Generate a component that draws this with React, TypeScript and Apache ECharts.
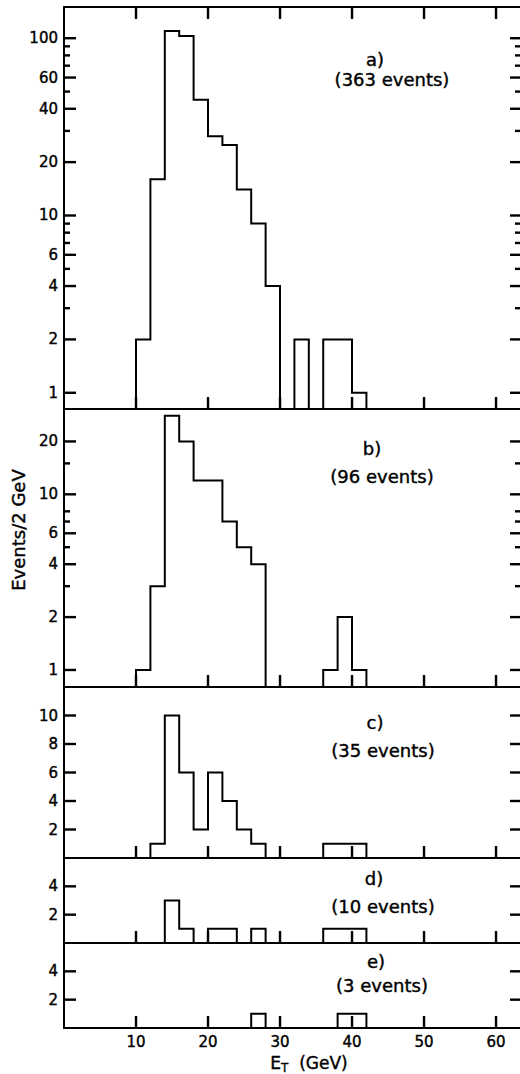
import React, { useEffect, useRef } from 'react';
import * as echarts from 'echarts';

// ---- data ----
const binStart = 10;
const binWidth = 2;
const countsA = [2, 16, 110, 103, 45, 28, 25, 14, 9, 4, 0, 2, 0, 2, 2, 1];
const countsB = [1, 3, 28, 20, 12, 12, 7, 5, 4, 0, 0, 0, 0, 1, 2, 1];
const countsC = [0, 1, 10, 6, 2, 6, 4, 2, 1, 0, 0, 0, 0, 1, 1, 1];
const countsD = [0, 0, 3, 1, 0, 1, 1, 0, 1, 0, 0, 0, 0, 1, 1, 1];
const countsE = [0, 0, 0, 0, 0, 0, 0, 0, 1, 0, 0, 0, 0, 0, 1, 1];

const panelLetters = ['a)', 'b)', 'c)', 'd)', 'e)'];
const panelEvents = ['(363 events)', '(96 events)', '(35 events)', '(10 events)', '(3 events)'];

const xTicks = [10, 20, 30, 40, 50, 60];
const aMajor = [1, 2, 4, 6, 10, 20, 40, 60, 100];
const aMinor = [3, 5, 7, 8, 9, 30, 50, 70, 80, 90];
const bMajor = [1, 2, 4, 6, 10, 20];
const bMinor = [3, 5, 7, 8, 15];
const cTicks = [2, 4, 6, 8, 10];
const dTicks = [2, 4];
const eTicks = [2, 4];

const yTitle = 'Events/2 GeV';

// ---- layout ----
const FONT = "'DejaVu Sans', sans-serif";
const GRID_LEFT = 64;
const GRID_WIDTH = 456;
const X_MIN = 0;
const X_MAX = 63.33;

const panels = [
  { top: 7, height: 402, type: 'log', min: 0.81, max: 150, major: aMajor, minor: aMinor, counts: countsA, lx: 375, ly: 59, ex: 392, ey: 79 },
  { top: 409, height: 278, type: 'log', min: 0.8, max: 30.6, major: bMajor, minor: bMinor, counts: countsB, lx: 372, ly: 448, ex: 382, ey: 476 },
  { top: 687, height: 171, type: 'value', min: 0, max: 12, major: cTicks, minor: [] as number[], counts: countsC, lx: 375, ly: 722, ex: 383, ey: 750 },
  { top: 858, height: 85, type: 'value', min: 0, max: 6, major: dTicks, minor: [] as number[], counts: countsD, lx: 374, ly: 878, ex: 383, ey: 906 },
  { top: 943, height: 85, type: 'value', min: 0, max: 6, major: eTicks, minor: [] as number[], counts: countsE, lx: 376, ly: 961, ex: 382, ey: 985 },
];

function stepPoints(counts: number[], base: number) {
  const pts: number[][] = [];
  counts.forEach((c, i) => {
    const lo = binStart + i * binWidth;
    const hi = lo + binWidth;
    const v = c > 0 ? c : base;
    if (i === 0) pts.push([lo, base]);
    pts.push([lo, v], [hi, v]);
  });
  pts.push([binStart + counts.length * binWidth, base]);
  return pts;
}

const black = '#000';
const tickFont = { color: black, fontFamily: FONT, fontSize: 15, textBorderColor: black, textBorderWidth: 0.4 };
const textFont = { fontFamily: FONT, fontSize: 18, fill: black, stroke: black, lineWidth: 0.4 };

const seg = (x1: number, y1: number, x2: number, y2: number) => ({
  type: 'line',
  shape: { x1, y1, x2, y2 },
  style: { stroke: black, lineWidth: 2.4, lineCap: 'butt' },
});

function buildOption() {
  const grid: any[] = [];
  const xAxis: any[] = [];
  const yAxis: any[] = [];
  const series: any[] = [];
  const graphic: any[] = [];

  panels.forEach((p, i) => {
    grid.push({ left: GRID_LEFT, width: GRID_WIDTH, top: p.top, height: p.height });
    const xi = xAxis.length;
    xAxis.push({
      type: 'value', gridIndex: i, position: 'bottom', min: X_MIN, max: X_MAX,
      axisLine: { show: true, onZero: false, lineStyle: { color: black, width: 2 } },
      axisTick: { show: false },
      axisLabel: { show: i === panels.length - 1, customValues: xTicks, margin: 6, ...tickFont },
      splitLine: { show: false },
    });
    if (i === 0) {
      xAxis.push({
        type: 'value', gridIndex: 0, position: 'top', min: X_MIN, max: X_MAX,
        axisLine: { show: true, onZero: false, lineStyle: { color: black, width: 2 } },
        axisTick: { show: false },
        axisLabel: { show: false },
        splitLine: { show: false },
      });
    }
    const yi = yAxis.length;
    const yAx: any = {
      type: p.type, gridIndex: i, position: 'left', min: p.min, max: p.max,
      axisLine: { show: true, onZero: false, lineStyle: { color: black, width: 2 } },
      axisTick: { show: false },
      axisLabel: { show: true, customValues: p.major, margin: 6, ...tickFont },
      splitLine: { show: false },
    };
    if (p.type === 'log') yAx.logBase = 10;
    yAxis.push(yAx);

    series.push({
      type: 'line', xAxisIndex: xi, yAxisIndex: yi,
      data: stepPoints(p.counts, p.min),
      symbol: 'none', clip: false,
      lineStyle: { color: black, width: 2, join: 'miter' },
    });

    const yTickData = [
      ...p.major.map((v) => [X_MIN, v, 1]),
      ...p.minor.map((v) => [X_MIN, v, 0]),
    ];
    // y ticks on both sides, pointing inward
    series.push({
      type: 'custom', xAxisIndex: xi, yAxisIndex: yi, silent: true, z: 10,
      data: yTickData,
      renderItem: (params: any, api: any) => {
        const v = api.value(1);
        const left = api.coord([X_MIN, v]);
        const right = api.coord([X_MAX, v]);
        const major = api.value(2) === 1;
        const lenL = major ? 12 : 6;
        const lenR = major ? 10 : 5;
        return {
          type: 'group',
          children: [
            seg(left[0], left[1], left[0] + lenL, left[1]),
            seg(right[0] - lenR, right[1], right[0], right[1]),
          ],
        };
      },
    });
    // x ticks (bottom; also top for the first panel), pointing inward
    const withTop = i === 0;
    series.push({
      type: 'custom', xAxisIndex: xi, yAxisIndex: yi, silent: true, z: 10,
      data: xTicks.map((v) => [v, p.min]),
      renderItem: (params: any, api: any) => {
        const xv = api.value(0);
        const bottom = api.coord([xv, p.min]);
        const top = api.coord([xv, p.max]);
        const children: any[] = [seg(bottom[0], bottom[1] - 12, bottom[0], bottom[1])];
        if (withTop) children.push(seg(top[0], top[1], top[0], top[1] + 12));
        return { type: 'group', children };
      },
    });

    graphic.push({
      type: 'text', x: p.lx, y: p.ly,
      style: { text: panelLetters[i], ...textFont, align: 'center', verticalAlign: 'middle' },
    });
    graphic.push({
      type: 'text', x: p.ex, y: p.ey,
      style: { text: panelEvents[i], ...textFont, align: 'center', verticalAlign: 'middle' },
    });
  });

  graphic.push({
    type: 'text', x: 18, y: 530, rotation: Math.PI / 2,
    style: { text: yTitle, ...textFont, align: 'center', verticalAlign: 'middle' },
  });
  graphic.push({
    type: 'text', x: 309, y: 1063,
    style: {
      text: '{e|E}{t|T}{g|  (GeV)}',
      ...textFont,
      align: 'center', verticalAlign: 'middle',
      rich: {
        e: { fontFamily: FONT, fontSize: 17, fill: black, stroke: black, lineWidth: 0.4 },
        t: { fontFamily: FONT, fontSize: 12, fill: black, stroke: black, lineWidth: 0.3, padding: [9, 0, 0, 0] },
        g: { fontFamily: FONT, fontSize: 17, fill: black, stroke: black, lineWidth: 0.4 },
      },
    },
  });

  return { animation: false, backgroundColor: '#fff', grid, xAxis, yAxis, series, graphic };
}

export default function App() {
  const ref = useRef<HTMLDivElement>(null);
  useEffect(() => {
    if (!ref.current) return;
    const chart = echarts.init(ref.current, undefined, { renderer: 'svg' });
    chart.setOption(buildOption() as any);
    return () => chart.dispose();
  }, []);
  return (
    <div
      ref={ref}
      style={{ position: 'absolute', left: 0, top: 0, width: 520, height: 1074, background: '#fff' }}
    />
  );
}
